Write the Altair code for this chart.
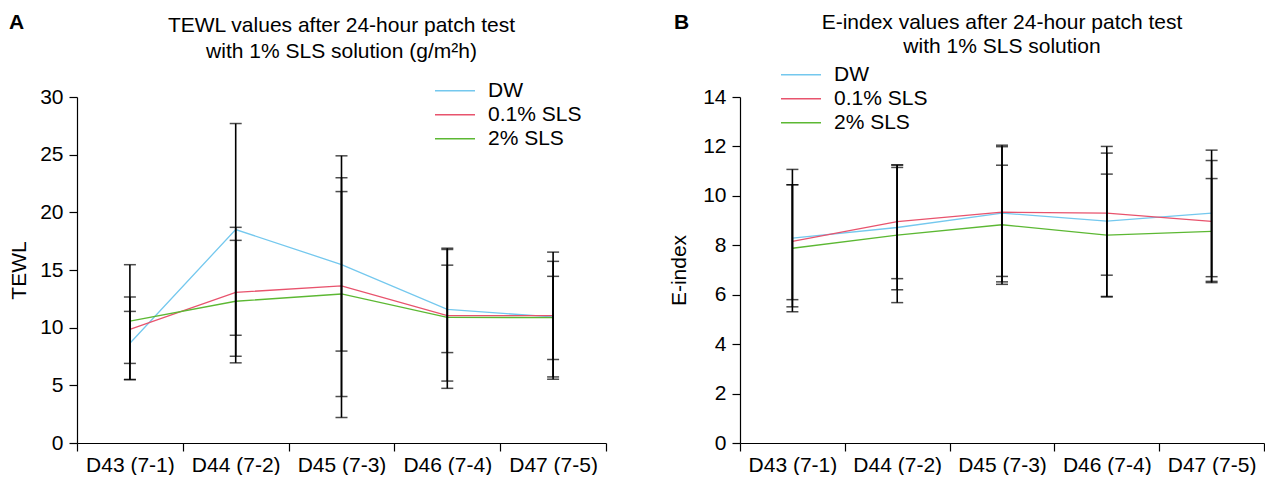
import altair as alt
import pandas as pd

FONT = "Liberation Sans"

categories = ["D43 (7-1)", "D44 (7-2)", "D45 (7-3)", "D46 (7-4)", "D47 (7-5)"]
series_names = ["DW", "0.1% SLS", "2% SLS"]
series_colors = ["#74c8ee", "#e8536d", "#5cb833"]
panel_letters = ["A", "B"]

# Panel A: TEWL (mean, lower and upper ends of error bars)
tewl_dw_mean = [8.65, 18.51, 15.47, 11.58, 10.93]
tewl_dw_lo = [5.5, 9.34, 7.97, 7.84, 7.24]
tewl_dw_hi = [11.41, 27.7, 23.0, 15.42, 14.45]
tewl_sls01_mean = [9.85, 13.06, 13.63, 11.04, 11.04]
tewl_sls01_lo = [6.9, 7.52, 2.21, 5.37, 5.53]
tewl_sls01_hi = [12.66, 18.7, 24.9, 16.78, 16.55]
tewl_sls2_mean = [10.56, 12.29, 12.92, 10.9, 10.87]
tewl_sls2_lo = [5.5, 6.95, 4.03, 4.74, 5.73]
tewl_sls2_hi = [15.46, 17.57, 21.8, 16.89, 15.75]

# Panel B: E-index
eidx_dw_mean = [8.29, 8.72, 9.30, 8.98, 9.30]
eidx_dw_lo = [5.51, 6.2, 6.52, 5.93, 6.73]
eidx_dw_hi = [11.07, 11.25, 12.05, 12.0, 11.85]
eidx_sls01_mean = [8.16, 8.96, 9.34, 9.30, 8.97]
eidx_sls01_lo = [5.8, 6.65, 6.74, 6.79, 6.54]
eidx_sls01_hi = [10.45, 11.25, 11.99, 11.73, 11.43]
eidx_sls2_mean = [7.88, 8.41, 8.83, 8.41, 8.56]
eidx_sls2_lo = [5.31, 5.68, 6.42, 5.91, 6.49]
eidx_sls2_hi = [10.45, 11.15, 11.24, 10.88, 10.7]

title_a = ["TEWL values after 24-hour patch test", "with 1% SLS solution (g/m\u00b2h)"]
title_b = ["E-index values after 24-hour patch test", "with 1% SLS solution"]


def build_df(means, lows, highs):
    rows = []
    for s, m, lo, hi in zip(series_names, means, lows, highs):
        for c, mv, l, h in zip(categories, m, lo, hi):
            rows.append({"day": c, "group": s, "mean": mv, "lo": l, "hi": h})
    return pd.DataFrame(rows)


df_a = build_df([tewl_dw_mean, tewl_sls01_mean, tewl_sls2_mean],
                [tewl_dw_lo, tewl_sls01_lo, tewl_sls2_lo],
                [tewl_dw_hi, tewl_sls01_hi, tewl_sls2_hi])
df_b = build_df([eidx_dw_mean, eidx_sls01_mean, eidx_sls2_mean],
                [eidx_dw_lo, eidx_sls01_lo, eidx_sls2_lo],
                [eidx_dw_hi, eidx_sls01_hi, eidx_sls2_hi])


def panel(df, letter, letter_x, title_lines, line_height, ytitle, title_pad,
          ymax, ystep, width, legend_x, legend_y, title_offset):
    xenc = alt.X("day:N", sort=categories,
                 scale=alt.Scale(domain=categories, paddingInner=0, paddingOuter=0),
                 axis=alt.Axis(title=None, tickBand="extent", labelAngle=0,
                               labelPadding=3))
    yaxis = alt.Axis(title=ytitle, values=list(range(0, ymax + 1, ystep)),
                     titlePadding=title_pad, labelPadding=6)
    yscale = alt.Scale(domain=[0, ymax], nice=False)
    base = alt.Chart(df)
    lines = base.mark_line(strokeWidth=1.3).encode(
        x=xenc,
        y=alt.Y("mean:Q", scale=yscale, axis=yaxis),
        color=alt.Color("group:N", sort=series_names,
                        scale=alt.Scale(domain=series_names, range=series_colors),
                        legend=alt.Legend(title=None, orient="none",
                                          legendX=legend_x, legendY=legend_y,
                                          symbolType="stroke", symbolSize=1600,
                                          symbolStrokeWidth=1.5,
                                          labelFontSize=21, labelFont=FONT,
                                          labelColor="black", labelOffset=12,
                                          clipHeight=23.5, rowPadding=0)),
    )
    bars = base.mark_rule(color="black", strokeWidth=1.6).encode(
        x=xenc, y=alt.Y("lo:Q", scale=yscale, axis=yaxis), y2="hi:Q")
    caps_lo = base.mark_tick(color="black", thickness=1.5, size=12,
                             orient="horizontal").encode(
        x=xenc, y=alt.Y("lo:Q", scale=yscale, axis=yaxis))
    caps_hi = base.mark_tick(color="black", thickness=1.5, size=12,
                             orient="horizontal").encode(
        x=xenc, y=alt.Y("hi:Q", scale=yscale, axis=yaxis))
    label = alt.Chart(pd.DataFrame({"t": [letter]})).mark_text(
        font=FONT, fontSize=21, fontWeight="bold", color="black",
        align="left", baseline="middle").encode(
        text="t:N", x=alt.value(letter_x), y=alt.value(-74))
    return alt.layer(lines, bars, caps_lo, caps_hi, label).properties(
        width=width, height=346,
        title=alt.Title(title_lines, fontSize=21, font=FONT, fontWeight="normal",
                        color="black", anchor="middle", offset=title_offset,
                        lineHeight=line_height),
    )


pa = panel(df_a, panel_letters[0], -68, title_a, 26, "TEWL", 10,
           30, 5, 529, 357, -18, -50)
pb = panel(df_b, panel_letters[1], -66, title_b, 24, "E-index", 13,
           14, 2, 524, 40, -34, -45)

chart = alt.hconcat(pa, pb, spacing=61).resolve_legend(color="independent").properties(
    padding={"left": 0, "top": 4, "right": 0, "bottom": 0}
).configure_view(stroke=None).configure_axis(
    labelFont=FONT, labelFontSize=21, labelColor="black",
    titleFont=FONT, titleFontSize=21, titleFontWeight="normal", titleColor="black",
    domainColor="black", tickColor="black", tickSize=8, grid=False,
    domainWidth=1.2, tickWidth=1.2,
)

chart.save("out.html", embed_options={"renderer": "svg", "actions": False})
